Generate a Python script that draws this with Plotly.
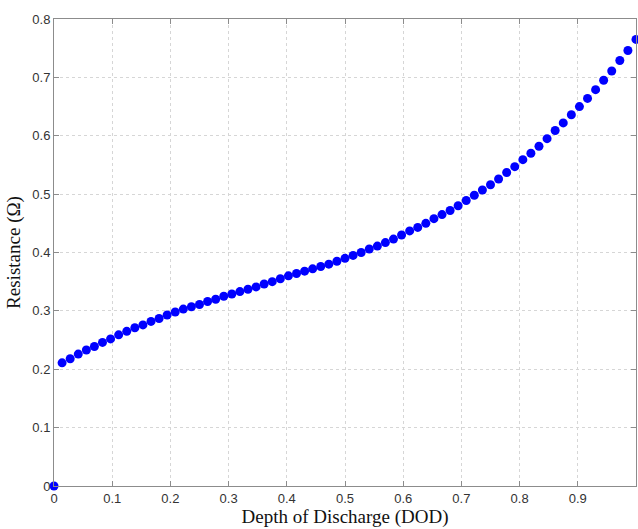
import plotly.graph_objects as go

dod = [0, 0.0139, 0.0278, 0.0417, 0.0556, 0.0694, 0.0833, 0.0972, 0.1111, 0.125, 0.1389,
       0.1528, 0.1667, 0.1806, 0.1944, 0.2083, 0.2222, 0.2361, 0.25, 0.2639, 0.2778,
       0.2917, 0.3056, 0.3194, 0.3333, 0.3472, 0.3611, 0.375, 0.3889, 0.4028, 0.4167,
       0.4306, 0.4444, 0.4583, 0.4722, 0.4861, 0.5, 0.5139, 0.5278, 0.5417, 0.5556,
       0.5694, 0.5833, 0.5972, 0.6111, 0.625, 0.6389, 0.6528, 0.6667, 0.6806, 0.6944,
       0.7083, 0.7222, 0.7361, 0.75, 0.7639, 0.7778, 0.7917, 0.8056, 0.8194, 0.8333,
       0.8472, 0.8611, 0.875, 0.8889, 0.9028, 0.9167, 0.9306, 0.9444, 0.9583, 0.9722,
       0.9861, 1.0]

resistance = [0, 0.211, 0.218, 0.226, 0.233, 0.239, 0.246, 0.252, 0.259, 0.265, 0.271,
              0.276, 0.282, 0.287, 0.293, 0.298, 0.303, 0.307, 0.311, 0.316, 0.320,
              0.325, 0.329, 0.333, 0.337, 0.341, 0.346, 0.350, 0.355, 0.360, 0.364,
              0.368, 0.372, 0.376, 0.380, 0.385, 0.390, 0.395, 0.400, 0.406, 0.411,
              0.417, 0.423, 0.430, 0.437, 0.443, 0.450, 0.458, 0.465, 0.472, 0.480,
              0.489, 0.498, 0.507, 0.516, 0.526, 0.537, 0.547, 0.559, 0.570, 0.582,
              0.595, 0.609, 0.622, 0.636, 0.650, 0.664, 0.679, 0.695, 0.711, 0.729,
              0.746, 0.765]

x_ticks = [0, 0.1, 0.2, 0.3, 0.4, 0.5, 0.6, 0.7, 0.8, 0.9, 1]
x_tick_labels = ["0", "0.1", "0.2", "0.3", "0.4", "0.5", "0.6", "0.7", "0.8", "0.9", "1"]
y_ticks = [0, 0.1, 0.2, 0.3, 0.4, 0.5, 0.6, 0.7, 0.8]
y_tick_labels = ["0", "0.1", "0.2", "0.3", "0.4", "0.5", "0.6", "0.7", "0.8"]

fig = go.Figure()
fig.add_trace(go.Scatter(
    x=dod, y=resistance, mode="markers",
    marker=dict(color="#0000FF", size=9, line=dict(width=0)),
    cliponaxis=False, showlegend=False, hoverinfo="skip",
))

axis_common = dict(
    showline=True, linecolor="#8c8c8c", linewidth=1, mirror="ticks",
    ticks="inside", ticklen=5, tickcolor="#8c8c8c",
    showgrid=True, gridcolor="#d6d6d6", griddash="dot", gridwidth=1,
    zeroline=False,
    tickfont=dict(family="Liberation Sans, Arial", size=13, color="#333333"),
)

fig.update_xaxes(
    range=[0, 1], tickvals=x_ticks, ticktext=x_tick_labels,
    title=dict(text="Depth of Discharge (DOD)",
               font=dict(family="Liberation Serif, Times New Roman", size=19, color="#111111"),
               standoff=2),
    **axis_common,
)
fig.update_yaxes(
    range=[0, 0.8], tickvals=y_ticks, ticktext=y_tick_labels,
    title=dict(text="Resistance (Ω)",
               font=dict(family="Liberation Serif, Times New Roman", size=19, color="#111111"),
               standoff=6),
    **axis_common,
)

fig.update_layout(
    width=638, height=529,
    margin=dict(l=54, r=2, t=19, b=43, autoexpand=False),
    plot_bgcolor="white", paper_bgcolor="white",
    hovermode=False,
)

fig.write_html(
    "out.html",
    config={"displayModeBar": False, "staticPlot": True},
    post_script="document.body.style.margin='0';document.body.style.overflow='hidden';",
)
